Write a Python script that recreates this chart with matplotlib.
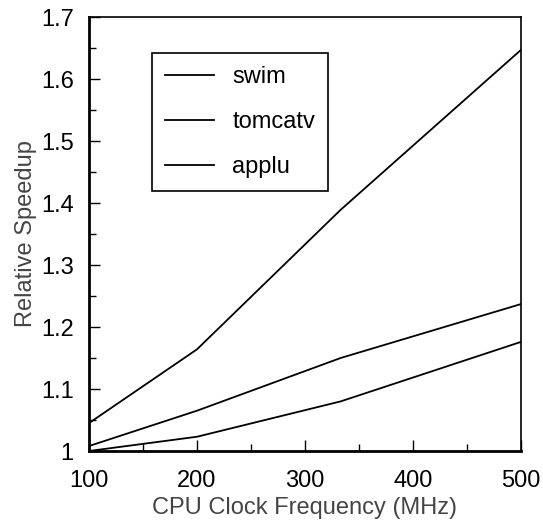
import matplotlib
matplotlib.use('Agg')
import matplotlib.pyplot as plt
from matplotlib.ticker import MultipleLocator

plt.rcParams['font.family'] = ['Liberation Sans', 'DejaVu Sans']

freq = [100, 200, 333, 500]
swim = [1.045, 1.164, 1.389, 1.647]
tomcatv = [1.008, 1.065, 1.150, 1.237]
applu = [1.000, 1.023, 1.080, 1.176]

fig = plt.figure(figsize=(5.43, 5.23), dpi=100)
ax = fig.add_axes([89 / 543, 72 / 523, 432 / 543, 434 / 523])

ax.plot(freq, swim, color='black', linewidth=1.3, label='swim')
ax.plot(freq, tomcatv, color='black', linewidth=1.3, label='tomcatv')
ax.plot(freq, applu, color='black', linewidth=1.3, label='applu')

ax.set_xlim(100, 500)
ax.set_ylim(1.0, 1.7)
ax.xaxis.set_major_locator(MultipleLocator(100))
ax.xaxis.set_minor_locator(MultipleLocator(50))
ax.yaxis.set_minor_locator(MultipleLocator(0.05))
ax.set_yticks([1.0, 1.1, 1.2, 1.3, 1.4, 1.5, 1.6, 1.7])
ax.set_yticklabels(['1', '1.1', '1.2', '1.3', '1.4', '1.5', '1.6', '1.7'])

ax.tick_params(which='both', direction='in', top=False, right=False,
               labelsize=17, width=1)
ax.tick_params(axis='x', pad=14)
ax.tick_params(axis='y', pad=11)
ax.tick_params(which='major', length=8)
ax.tick_params(which='minor', length=5)

for side in ['left', 'bottom']:
    ax.spines[side].set_linewidth(2)
for side in ['top', 'right']:
    ax.spines[side].set_linewidth(1.2)

ax.set_xlabel('CPU Clock Frequency (MHz)', fontsize=17, color='#444444', labelpad=3)
ax.set_ylabel('Relative Speedup', fontsize=17, color='#444444', labelpad=3)

leg = ax.legend(loc='upper left', bbox_to_anchor=(0.145, 0.917), fontsize=17,
                fancybox=False, framealpha=1, edgecolor='black',
                handlelength=2.1, handletextpad=0.76, labelspacing=0.97,
                borderpad=0.55, borderaxespad=0)
leg.get_frame().set_linewidth(1.2)

fig.savefig('out.png', dpi=100)
